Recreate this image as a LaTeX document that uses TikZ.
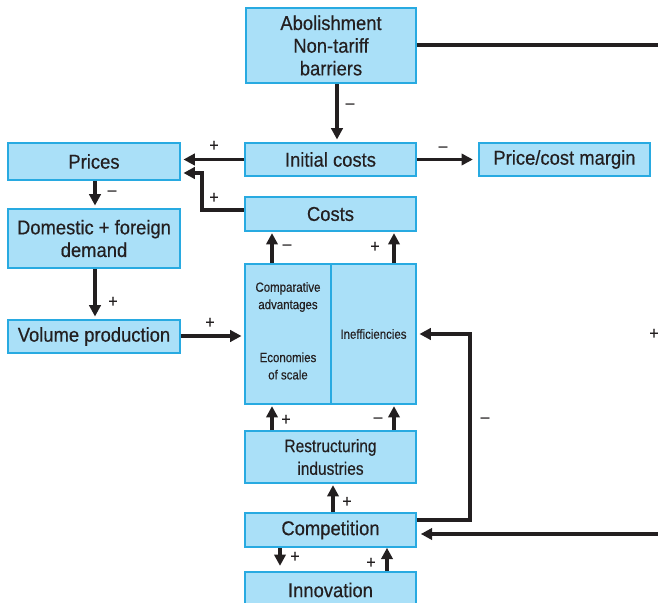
\documentclass[tikz,border=0pt]{standalone}
\usepackage{fontspec}
\setmainfont{Liberation Sans}[FakeStretch=0.92, FakeBold=0.4]
\newfontfamily\narrowf{Liberation Sans}[FakeStretch=0.86, FakeBold=0.3]
\usetikzlibrary{arrows.meta}
\definecolor{boxfill}{RGB}{170,224,248}
\definecolor{boxline}{RGB}{40,170,225}
\definecolor{ink}{RGB}{35,31,32}
\tikzset{
  box/.style={draw=boxline, fill=boxfill, line width=1.2pt, inner sep=0pt, align=center,
    text=ink, font=\fontsize{15}{17}\selectfont},
  smallbox/.style={box, font=\narrowf\fontsize{10}{13}\selectfont},
  midbox/.style={box, font=\narrowf\fontsize{13.5}{17}\selectfont},
  conn/.style={draw=ink, line width=2.6pt, -{Triangle[length=8.5pt,width=8.5pt]}},
  plainconn/.style={draw=ink, line width=2.6pt},
  sign/.style={text=ink, font=\fontsize{13}{13}\selectfont, inner sep=0pt}
}
\begin{document}
\begin{tikzpicture}[x=0.75pt,y=-0.75pt]
\useasboundingbox (0,0) rectangle (658,603);
\begin{scope}
\clip (0,0) rectangle (658,603);
% boxes
\node[box, minimum width=127.5pt, minimum height=56.25pt] (abol) at (331,45.5) {Abolishment\\Non-tariff\\barriers};
\node[box, minimum width=128.25pt, minimum height=24.75pt] (init) at (330.5,159.5) {Initial costs};
\node[box, minimum width=128.25pt, minimum height=24.75pt] (pcm) at (564.5,159.5) {Price/cost margin};
\node[box, minimum width=129pt, minimum height=27.75pt] (prices) at (94,161.5) {Prices};
\node[box, minimum width=129pt, minimum height=44.25pt] (demand) at (94,238.5) {Domestic + foreign\\demand};
\node[box, minimum width=129pt, minimum height=24.75pt] (volume) at (94,336.5) {Volume production};
\node[box, minimum width=128.25pt, minimum height=25.5pt] (costs) at (330.5,214) {Costs};
\node[smallbox, minimum width=64.5pt, minimum height=105pt] (compl) at (288,334) {};
\node[smallbox, minimum width=63.75pt, minimum height=105pt] (ineff) at (373.5,334) {Inefficiencies};
\node[text=ink, font=\narrowf\fontsize{10}{13}\selectfont, align=center, inner sep=0pt] (compadv) at (288,297) {Comparative\\advantages};
\node[text=ink, font=\narrowf\fontsize{10}{13}\selectfont, align=center, inner sep=0pt] (econ) at (288,366) {Economies\\of scale};
\node[midbox, minimum width=128.25pt, minimum height=39pt] (restr) at (330.5,457) {Restructuring\\industries};
\node[box, minimum width=128.25pt, minimum height=25.5pt] (comp) at (330.5,530) {Competition};
\node[box, minimum width=128.25pt, minimum height=27pt] (innov) at (330.5,590) {Innovation};
% edge coordinates
\coordinate (rtop) at (660,45);
\coordinate (rbot) at (660,534);
% connectors
\draw[conn, shorten >=2pt] (abol.south -| 337,0) -- (init.north -| 337,0);
\draw[plainconn] (abol.east |- 0,45) -- (rtop);
\draw[conn, shorten >=4pt] (init.east) -- (pcm.west);
\draw[conn, shorten >=2pt] (init.west) -- (prices.east |- init.west);
\draw[conn, shorten >=2pt] (costs.west |- 0,210) -- (202,210) -- (202,173) -- (prices.east |- 0,173);
\draw[conn, shorten >=2pt] (prices.south -| 95,0) -- (demand.north -| 95,0);
\draw[conn, shorten >=2pt] (demand.south -| 95,0) -- (volume.north -| 95,0);
\draw[conn, shorten >=2pt] (volume.east |- 0,336) -- (compl.west |- 0,336);
\draw[conn, shorten >=1pt] (compl.north -| 272,0) -- (costs.south -| 272,0);
\draw[conn, shorten >=1pt] (ineff.north -| 394,0) -- (costs.south -| 394,0);
\draw[conn, shorten >=1pt] (restr.north -| 272,0) -- (compl.south -| 272,0);
\draw[conn, shorten >=1pt] (restr.north -| 394,0) -- (ineff.south -| 394,0);
\draw[conn, shorten >=1pt] (comp.north -| 333,0) -- (restr.south -| 333,0);
\draw[conn, shorten >=2pt] (comp.east |- 0,520) -- (470,520) -- (470,334) -- (ineff.east |- 0,334);
\draw[conn, shorten >=3pt] (rbot) -- (comp.east |- 0,534);
\draw[conn, shorten >=4pt] (comp.south -| 280,0) -- (innov.north -| 280,0);
\draw[conn, shorten >=0pt] (innov.north -| 387,0) -- (comp.south -| 387,0);
\end{scope}
% signs
\node[sign] (s1) at (350,106) {–};
\node[sign] (s2) at (443,149) {–};
\node[sign] (s3) at (214,146) {+};
\node[sign] (s4) at (214,198) {+};
\node[sign] (s5) at (112,193) {–};
\node[sign] (s6) at (113,302) {+};
\node[sign] (s7) at (210,323) {+};
\node[sign] (s8) at (287,247) {–};
\node[sign] (s9) at (375,247) {+};
\node[sign] (s10) at (286,420) {+};
\node[sign] (s11) at (378,420) {–};
\node[sign] (s12) at (347,502) {+};
\node[sign] (s13) at (485,420) {–};
\node[sign] (s14) at (295,557) {+};
\node[sign] (s15) at (371,563) {+};
\node[sign] (s16) at (654,334) {+};
\end{tikzpicture}
\end{document}
